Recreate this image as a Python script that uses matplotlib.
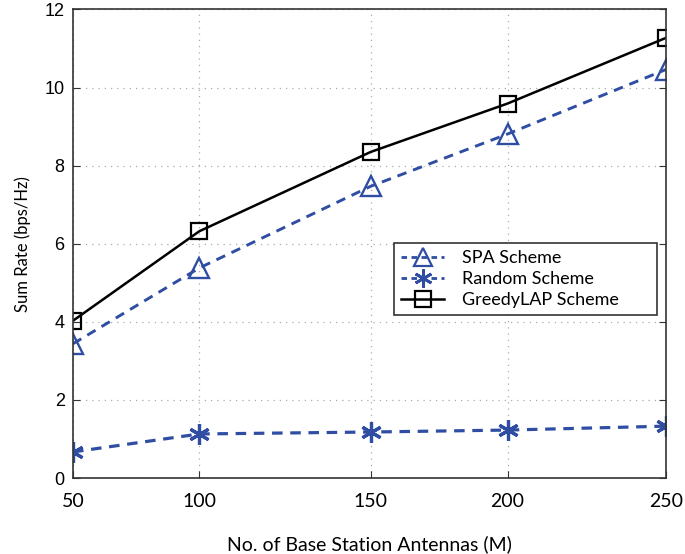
import numpy as np
import matplotlib
matplotlib.use("Agg")
import matplotlib.pyplot as plt
from matplotlib.lines import Line2D

antennas = [50, 100, 150, 200, 250]
spa = [3.44, 5.38, 7.47, 8.81, 10.46]
random_scheme = [0.67, 1.13, 1.18, 1.23, 1.33]
greedy = [4.03, 6.32, 8.35, 9.59, 11.27]
x_ticks = [50, 100, 150, 200, 250]
y_ticks = [0, 2, 4, 6, 8, 10, 12]
labels = ["SPA Scheme", "Random Scheme", "GreedyLAP Scheme"]

# horizontal axis of the original is not evenly spaced
tick_frac = [0.0, 0.213, 0.502, 0.733, 1.0]

def fwd(x):
    return np.interp(x, x_ticks, tick_frac)

def inv(f):
    return np.interp(f, tick_frac, x_ticks)

fig = plt.figure(figsize=(6.85, 5.54), dpi=100)
ax = fig.add_axes([0.1066, 0.137, 0.8654, 0.846])
ax.set_xscale("function", functions=(fwd, inv))

blue = "#2f4ea3"
dash = (0, (3.3, 2.4))
asterisk = (6, 2, 0)
ax.plot(antennas, spa, linestyle=dash, color=blue, lw=2.1, marker="^",
        markersize=14, markerfacecolor="none", markeredgecolor=blue, markeredgewidth=1.7,
        label=labels[0])
ax.plot(antennas, random_scheme, linestyle=dash, color=blue, lw=2.3, marker=asterisk,
        markersize=15, markeredgecolor=blue, markeredgewidth=2.3, label=labels[1])
ax.plot(antennas, greedy, linestyle="-", color="black", lw=1.8, marker="s",
        markersize=12, markerfacecolor="none", markeredgecolor="black", markeredgewidth=1.6,
        label=labels[2])

ax.set_xlim(50, 250)
ax.set_ylim(0, 12)
ax.set_xticks(x_ticks)
ax.set_yticks(y_ticks)
ax.set_xticklabels([str(v) for v in x_ticks], family="Lato", fontsize=14)
ax.set_yticklabels([str(v) for v in y_ticks], family="Liberation Sans", fontsize=13)
ax.tick_params(direction="in", length=5, top=False, right=True, color="#333333")
ax.tick_params(axis="x", pad=11)
ax.tick_params(axis="y", pad=6)
ax.grid(True, linestyle=(0, (1, 4)), color="#aaaaaa", lw=0.9)
for s in ax.spines.values():
    s.set_color("#333333")
    s.set_linewidth(1.2)

ax.set_xlabel("No. of Base Station Antennas (M)", family="Lato", fontsize=14, labelpad=18)
ax.set_ylabel("Sum Rate (bps/Hz)", family="Lato", fontsize=12, labelpad=10)

handles = [
    Line2D([], [], linestyle=(0, (2, 1.6)), color=blue, lw=2.0, marker="^", markersize=13,
           markerfacecolor="none", markeredgecolor=blue, markeredgewidth=1.6),
    Line2D([], [], linestyle=(0, (2, 1.6)), color=blue, lw=2.0, marker=asterisk, markersize=13,
           markeredgecolor=blue, markeredgewidth=2.0),
    Line2D([], [], linestyle="-", color="black", lw=1.8, marker="s", markersize=11,
           markerfacecolor="none", markeredgecolor="black", markeredgewidth=1.6),
]
leg = ax.legend(handles, labels, loc="upper left", bbox_to_anchor=(0.541, 0.337, 0.444, 0.165),
                mode="expand", prop={"family": "Lato", "size": 13}, fancybox=False, framealpha=1,
                edgecolor="#333333", handlelength=2.4, borderpad=0.4, labelspacing=0.28,
                handletextpad=1.0, borderaxespad=0)
leg.get_frame().set_linewidth(1.2)

fig.savefig("out.png", dpi=100)
